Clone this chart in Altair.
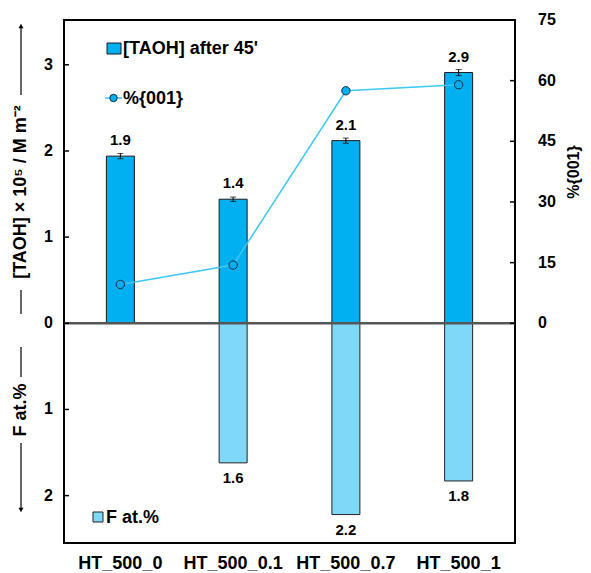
import altair as alt
import pandas as pd

categories = ["HT_500_0", "HT_500_0.1", "HT_500_0.7", "HT_500_1"]
taoh = [1.94, 1.44, 2.12, 2.91]
taoh_err = [0.03, 0.025, 0.03, 0.035]
taoh_labels = ["1.9", "1.4", "2.1", "2.9"]
f_cats = ["HT_500_0.1", "HT_500_0.7", "HT_500_1"]
f_at = [1.62, 2.22, 1.83]
f_labels = ["1.6", "2.2", "1.8"]
pct001 = [9.6, 14.4, 57.5, 59.0]
right_ticks = [0, 15, 30, 45, 60, 75]
left_ticks = [-2, -1, 0, 1, 2, 3]

FONT = "Liberation Sans"
BLUE = "#00B0F0"
LIGHT = "#80D8F8"
LINE = "#3CC8F5"
YTOP = 3.52      # left-axis value at the top of the frame
RTOP = 75.0      # right-axis value at the top of the frame
CONV = f"{YTOP} / {RTOP}"
FS = 18

df = pd.DataFrame({
    "cat": categories,
    "taoh": taoh,
    "lo": [v - e for v, e in zip(taoh, taoh_err)],
    "hi": [v + e for v, e in zip(taoh, taoh_err)],
    "lab": taoh_labels,
    "pct": pct001,
})
dff = pd.DataFrame({"cat": f_cats, "f": [-v for v in f_at], "lab": f_labels})
dfr = pd.DataFrame({"r": right_ticks})
dfl = pd.DataFrame({"l": left_ticks})

X = alt.X("cat:N", sort=categories)
xenc = alt.X("cat:N", sort=categories,
             scale=alt.Scale(paddingInner=0, paddingOuter=0),
             axis=alt.Axis(title=None, labelFont=FONT, labelFontSize=FS,
                           labelFontWeight="bold", labelColor="black",
                           ticks=False, domain=False, labelPadding=11,
                           labelAngle=0))
yscale = alt.Scale(domain=[-2.55, YTOP], nice=False, zero=False)

base = alt.Chart(df)
bars = base.mark_bar(color=BLUE, stroke="#1a1a1a", strokeWidth=1, size=28).encode(
    x=xenc, y=alt.Y("taoh:Q", scale=yscale, axis=None))
fbars = alt.Chart(dff).mark_bar(color=LIGHT, stroke="#222222", strokeWidth=1, size=28).encode(
    x=X, y=alt.Y("f:Q", axis=None))
err = base.mark_rule(color="black", strokeWidth=1).encode(
    x=X, y=alt.Y("lo:Q", axis=None), y2="hi:Q")
caps_hi = base.mark_tick(color="black", size=6, thickness=1).encode(
    x=X, y=alt.Y("hi:Q", axis=None))
caps_lo = base.mark_tick(color="black", size=6, thickness=1).encode(
    x=X, y=alt.Y("lo:Q", axis=None))
zero = alt.Chart(dfr).transform_filter("datum.r == 0").mark_rule(
    color="#555555", strokeWidth=2.5).encode(y=alt.Y("r:Q", axis=None))
tlab = base.mark_text(font=FONT, fontSize=15, fontWeight="bold", color="black", dy=-16).encode(
    x=X, y=alt.Y("taoh:Q", axis=None), text="lab:N")
flab = alt.Chart(dff).mark_text(font=FONT, fontSize=15, fontWeight="bold", color="black", dy=15).encode(
    x=X, y=alt.Y("f:Q", axis=None), text="lab:N")

# primary (left) axis: inward ticks + absolute-value labels
lbase = alt.Chart(dfl).transform_calculate(la="abs(datum.l)")
lticks = lbase.mark_rule(color="black", strokeWidth=1.5).encode(
    x=alt.value(0), x2=alt.value(5), y=alt.Y("l:Q", axis=None))
llabels = lbase.mark_text(font=FONT, fontSize=16, fontWeight="bold", color="black",
                          align="right", baseline="middle").encode(
    x=alt.value(-11), y=alt.Y("l:Q", axis=None), text="la:Q")

# %{001} series on the secondary (right) axis, mapped through the same y scale
pbase = base.transform_calculate(py=f"datum.pct * {CONV}")
line = pbase.mark_line(color=LINE, strokeWidth=1.5).encode(
    x=X, y=alt.Y("py:Q", axis=None))
pts = pbase.mark_point(shape="circle", filled=True, fill=BLUE, stroke="#1a2a3a",
                       strokeWidth=1, size=70, opacity=1).encode(
    x=X, y=alt.Y("py:Q", axis=None))

# secondary axis: ticks + labels + title
rbase = alt.Chart(dfr).transform_calculate(ry=f"datum.r * {CONV}")
rticks = rbase.mark_rule(color="black", strokeWidth=1.5).encode(
    x=alt.value(446), x2=alt.value(451), y=alt.Y("ry:Q", axis=None))
rlabels = rbase.mark_text(font=FONT, fontSize=16, fontWeight="bold", color="black",
                          align="left", baseline="middle").encode(
    x=alt.value(474), y=alt.Y("ry:Q", axis=None), text="r:Q")
one = pd.DataFrame({"k": [0]})
rtitle = alt.Chart(one).mark_text(text="%{001}", font=FONT, fontSize=16, fontWeight="bold",
                                  angle=270, align="center", baseline="middle",
                                  color="black").encode(x=alt.value(510), y=alt.value(152))

# in-plot legend
leg_rect = alt.Chart(one).mark_rect(color=BLUE, stroke="#1a1a1a", strokeWidth=1).encode(
    x=alt.value(43), x2=alt.value(57), y=alt.value(23), y2=alt.value(34))
leg_t1 = alt.Chart(one).mark_text(text="[TAOH] after 45'", font=FONT, fontSize=FS,
                                  fontWeight="bold", align="left", baseline="middle",
                                  color="black").encode(x=alt.value(59), y=alt.value(29))
leg_line = alt.Chart(one).mark_rule(color=LINE, strokeWidth=1.5).encode(
    x=alt.value(41), x2=alt.value(58), y=alt.value(78))
leg_pt = alt.Chart(one).mark_point(shape="circle", filled=True, fill=BLUE, stroke="#1a2a3a",
                                   strokeWidth=1, size=55, opacity=1).encode(
    x=alt.value(49.5), y=alt.value(78))
leg_t2 = alt.Chart(one).mark_text(text="%{001}", font=FONT, fontSize=FS, fontWeight="bold",
                                  align="left", baseline="middle", color="black").encode(
    x=alt.value(59), y=alt.value(79))
leg_sq = alt.Chart(one).mark_rect(color=LIGHT, stroke="#222222", strokeWidth=1).encode(
    x=alt.value(29), x2=alt.value(39), y=alt.value(492), y2=alt.value(502))
leg_t3 = alt.Chart(one).mark_text(text="F at.%", font=FONT, fontSize=FS, fontWeight="bold",
                                  align="left", baseline="middle", color="black").encode(
    x=alt.value(42), y=alt.value(498))

# left axis title with arrows
TX = -43
t_up = alt.Chart(one).mark_text(text="[TAOH] × 10⁵ / M m⁻²", font=FONT, fontSize=FS,
                                fontWeight="bold", angle=270, align="center",
                                baseline="middle", color="black").encode(
    x=alt.value(TX), y=alt.value(172))
t_dn = alt.Chart(one).mark_text(text="F at.%", font=FONT, fontSize=FS, fontWeight="bold",
                                angle=270, align="center", baseline="middle",
                                color="black").encode(x=alt.value(TX), y=alt.value(390))
def vrule(y1, y2):
    return alt.Chart(one).mark_rule(color="black", strokeWidth=1.2).encode(
        x=alt.value(TX), y=alt.value(y1), y2=alt.value(y2))
r1, r2, r3, r4 = vrule(6, 75), vrule(270, 294), vrule(327, 357), vrule(423, 490)
a1 = alt.Chart(one).mark_point(shape="triangle-up", filled=True, color="black", size=25,
                               opacity=1).encode(x=alt.value(TX), y=alt.value(6))
a2 = alt.Chart(one).mark_point(shape="triangle-down", filled=True, color="black", size=25,
                               opacity=1).encode(x=alt.value(TX), y=alt.value(490))

chart = alt.layer(
    bars, fbars, err, caps_hi, caps_lo, zero, tlab, flab, line, pts,
    lticks, llabels, rticks, rlabels, rtitle,
    leg_rect, leg_t1, leg_line, leg_pt, leg_t2, leg_sq, leg_t3,
    t_up, t_dn, r1, r2, r3, r4, a1, a2,
).properties(
    width=451, height=523,
    autosize=alt.AutoSizeParams(type="none"),
    padding={"left": 56, "top": 12, "right": 68, "bottom": 30},
).configure_view(stroke="black", strokeWidth=2)

chart.save("out.html", embed_options={"renderer": "svg", "actions": False})
